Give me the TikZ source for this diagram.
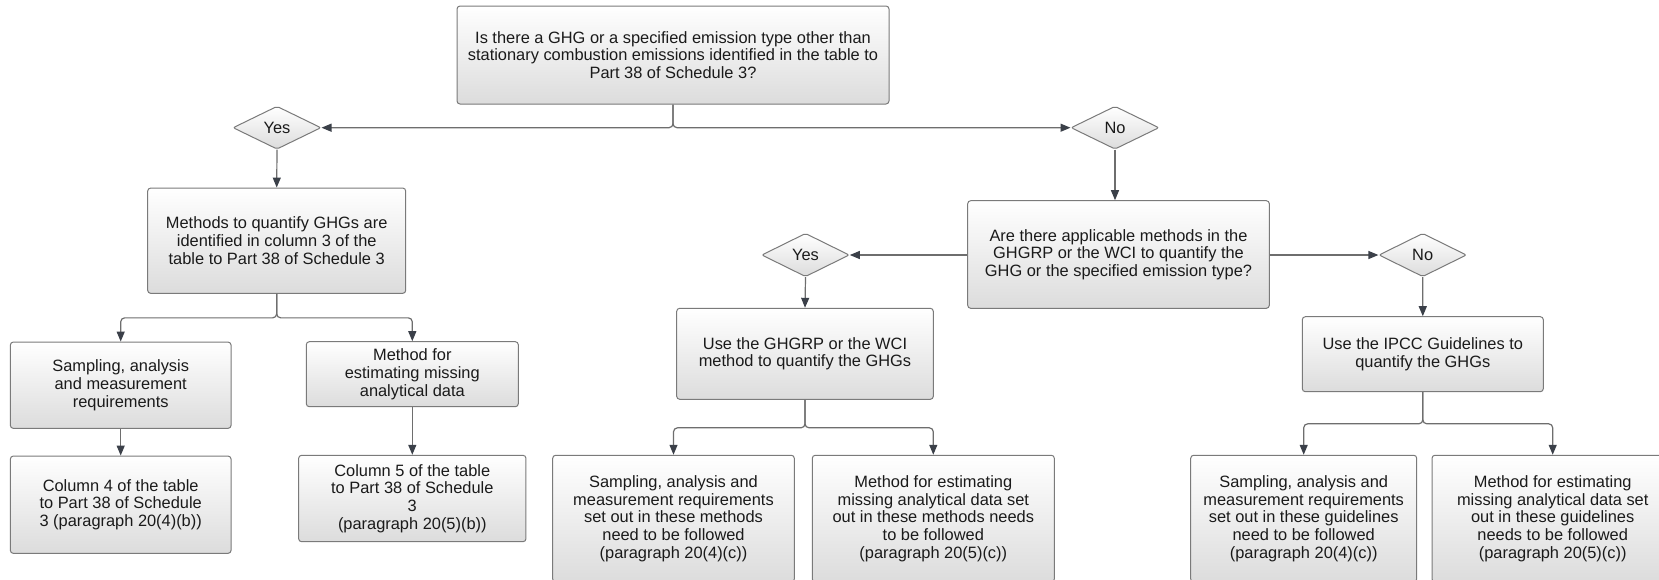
\documentclass[tikz,border=0pt]{standalone}
\usepackage{fontspec}
\setmainfont{Liberation Sans}
\usetikzlibrary{shapes.geometric,arrows.meta,calc}

\definecolor{boxline}{HTML}{7A7A7A}
\definecolor{boxbottom}{HTML}{DCDCDC}
\definecolor{wire}{HTML}{6E6E6E}
\definecolor{tipcol}{HTML}{3B4049}
\definecolor{ink}{HTML}{1A1A1A}

\tikzset{
  card/.style={draw=boxline, line width=1pt, rounded corners=3pt,
    top color=white, bottom color=boxbottom, shading angle=0,
    inner sep=0pt, align=center, text=ink,
    font=\fontsize{16.4}{17.7}\selectfont},
  choice/.style={diamond, draw=boxline, line width=1pt, rounded corners=2pt,
    top color=white, bottom color=boxbottom,
    inner sep=0pt, text=ink, font=\fontsize{16.4}{17.7}\selectfont},
  link/.style={draw=wire, line width=1.2pt, rounded corners=4pt,
    -{Triangle[length=10pt,width=8pt,color=tipcol]}},
}

\begin{document}
\begin{tikzpicture}[x=1pt,y=-1pt]
\fill[white] (0,0) rectangle (1659,579);
\useasboundingbox (0,0) rectangle (1659,579);
\clip (0,0) rectangle (1659,579);

% top question and its two answers
\node[card, minimum width=432pt, minimum height=98pt] (q1) at (673,55)
  {Is there a GHG or a specified emission type other than\\stationary combustion emissions identified in the table to\\Part 38 of Schedule 3?};
\node[choice, minimum width=88pt, minimum height=43pt] (yes1) at (277,127.7) {Yes};
\node[choice, minimum width=88pt, minimum height=43pt] (no1) at (1115,127.7) {No};

% left branch: methods given in the table
\node[card, minimum width=258pt, minimum height=105.3pt] (meth) at (276.7,240.7)
  {Methods to quantify GHGs are\\identified in column 3 of the\\table to Part 38 of Schedule 3};
\node[card, minimum width=220.7pt, minimum height=86.3pt] (samp1) at (120.7,385.2)
  {Sampling, analysis\\and measurement\\requirements};
\node[card, minimum width=212pt, minimum height=65pt] (miss1) at (412.3,374.2)
  {Method for\\estimating missing\\analytical data};
\node[card, minimum width=220.7pt, minimum height=97.3pt] (col4) at (120.7,504.7)
  {Column 4 of the table\\to Part 38 of Schedule\\3 (paragraph 20(4)(b))};
\node[card, minimum width=227.3pt, minimum height=86.4pt] (col5) at (412.3,498.5)
  {Column 5 of the table\\to Part 38 of Schedule\\3\\(paragraph 20(5)(b))};

% right branch: second question
\node[card, minimum width=301.6pt, minimum height=107.6pt] (q2) at (1118.5,254.5)
  {Are there applicable methods in the\\GHGRP or the WCI to quantify the\\GHG or the specified emission type?};
\node[choice, minimum width=87.6pt, minimum height=43.4pt] (yes2) at (805.5,255) {Yes};
\node[choice, minimum width=87.6pt, minimum height=43.4pt] (no2) at (1422.7,255) {No};

\node[card, minimum width=256.6pt, minimum height=91pt] (ghgrp) at (805,353.8)
  {Use the GHGRP or the WCI\\method to quantify the GHGs};
\node[card, minimum width=241pt, minimum height=75pt] (ipcc) at (1422.8,354.2)
  {Use the IPCC Guidelines to\\quantify the GHGs};

\node[card, minimum width=241.6pt, minimum height=126.7pt] (samp2) at (673.5,518.6)
  {Sampling, analysis and\\measurement requirements\\set out in these methods\\need to be followed\\(paragraph 20(4)(c))};
\node[card, minimum width=242pt, minimum height=126.7pt] (miss2) at (933.3,518.6)
  {Method for estimating\\missing analytical data set\\out in these methods needs\\to be followed\\(paragraph 20(5)(c))};
\node[card, minimum width=226pt, minimum height=126.7pt] (samp3) at (1303.7,518.6)
  {Sampling, analysis and\\measurement requirements\\set out in these guidelines\\need to be followed\\(paragraph 20(4)(c))};
\node[card, minimum width=241.4pt, minimum height=126.7pt] (miss3) at (1552.7,518.6)
  {Method for estimating\\missing analytical data set\\out in these guidelines\\needs to be followed\\(paragraph 20(5)(c))};

% connectors
\draw[link] (q1.south) |- (yes1.east);
\draw[link] (q1.south) |- (no1.west);
\draw[link] (yes1.south) -- (meth.north);
\draw[link] (no1.south) -- (no1.south |- q2.north);

\draw[link] (meth.south) -- ++(0,24) -| (samp1.north);
\draw[link] (meth.south) -- ++(0,24) -| (miss1.north);
\draw[link] (samp1.south) -- (col4.north);
\draw[link] (miss1.south) -- (col5.north);

\draw[link] (q2.west |- yes2.east) -- (yes2.east);
\draw[link] (q2.east |- no2.west) -- (no2.west);
\draw[link] (yes2.south) -- (ghgrp.north);
\draw[link] (no2.south) -- (ipcc.north);

\draw[link] (ghgrp.south) -- ++(0,28) -| (samp2.north);
\draw[link] (ghgrp.south) -- ++(0,28) -| (miss2.north);
\draw[link] (ipcc.south) -- ++(0,31.6) -| (samp3.north);
\draw[link] (ipcc.south) -- ++(0,31.6) -| (miss3.north);
\end{tikzpicture}
\end{document}
